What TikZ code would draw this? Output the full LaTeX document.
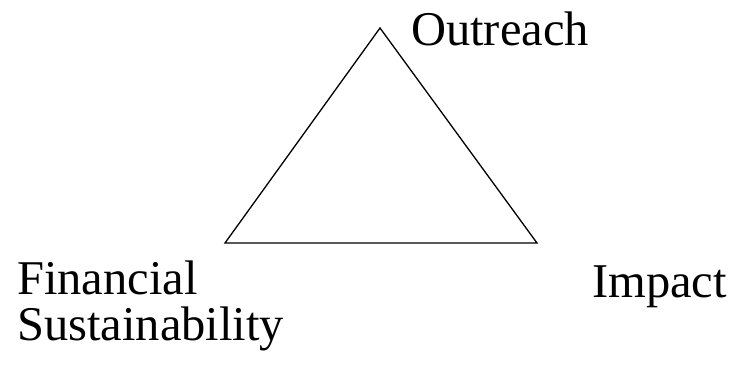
\documentclass[tikz,border=0pt]{standalone}
\usepackage{fontspec}
\setmainfont{Liberation Serif}
\begin{document}
\begin{tikzpicture}[x=1pt,y=-1pt,
  lbl/.style={anchor=base west,inner sep=0pt,font=\fontsize{48.5}{58}\selectfont},
  edge/.style={line width=1.3pt,line join=miter}]
\useasboundingbox (0,0) rectangle (729,367);
\coordinate (top) at (380,28);
\coordinate (left) at (225,243);
\coordinate (right) at (537,243);
\draw[edge] (top) -- (left) -- (right) -- cycle;
\node[lbl] (outreach) at (411,45) {Outreach};
\node[lbl] (financial) at (17,294) {Financial};
\node[lbl] (sustain) at (17,340) {Sustainability};
\node[lbl] (impact) at (592,297) {Impact};
\end{tikzpicture}
\end{document}
